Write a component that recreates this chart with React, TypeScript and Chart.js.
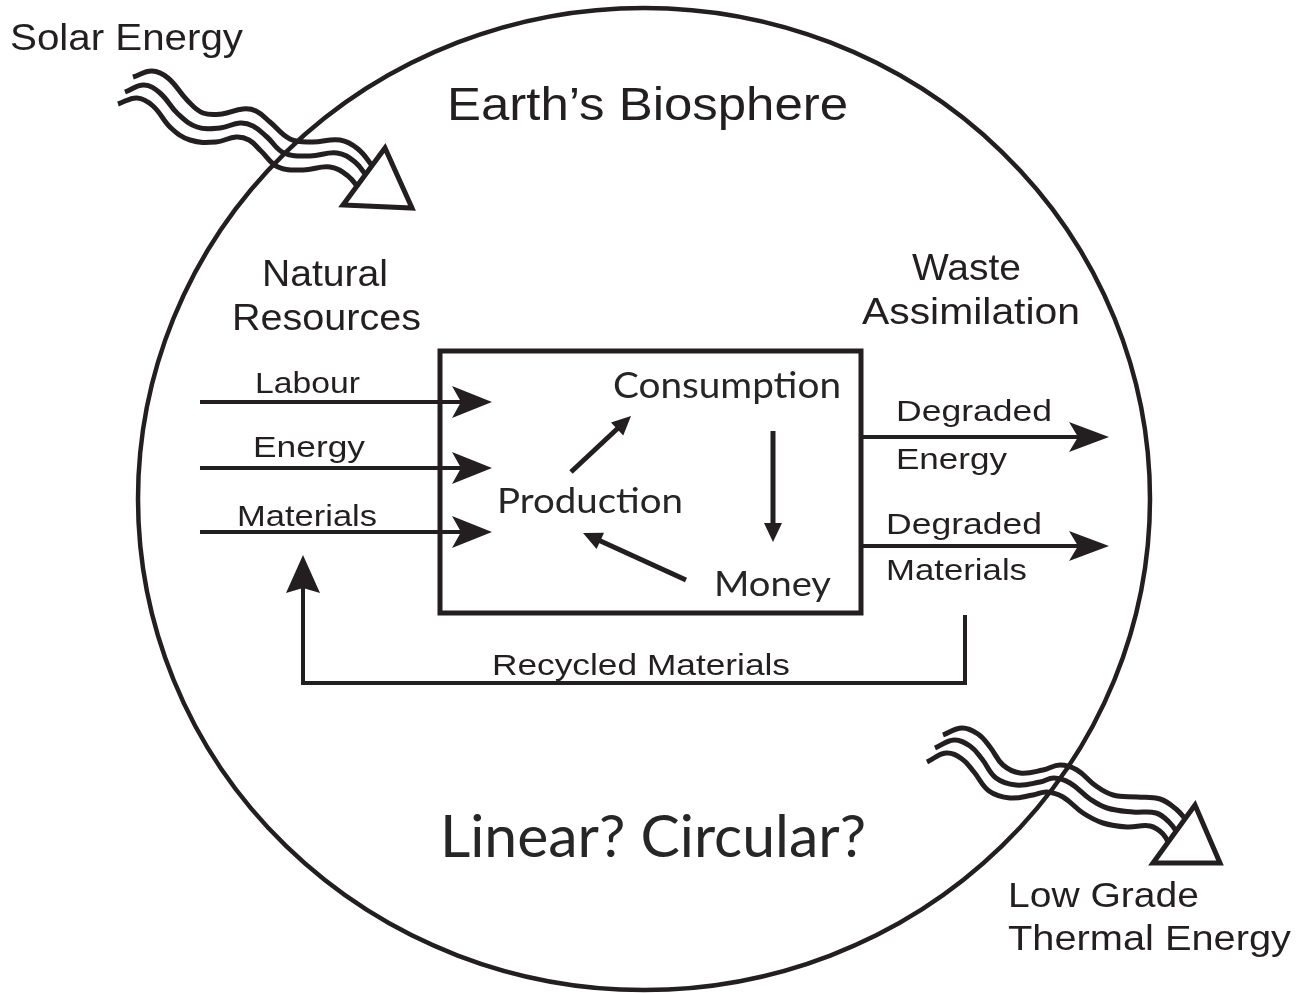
import React, { useEffect, useRef } from 'react';
import { Chart, registerables } from 'chart.js';

Chart.register(...registerables);

const W = 1299;
const H = 993;
const INK = '#231f20';
const ARIAL = '"Liberation Sans", Arial, sans-serif';
const CALIBRI = 'Lato, "Open Sans", sans-serif';

// ---------- diagram data (diagram coordinate space = 1299 x 993) ----------
// Earth's biosphere ellipse: centre x, centre y, radius x, radius y
const biosphere = [644, 499, 506, 491];

// Economy box corners (left, top, right, bottom)
const economyBox = [440, 351, 861, 613];

// Inputs from natural resources
const inputLabels = ['Labour', 'Energy', 'Materials'];
const inputY = [402, 468, 532];
const inputX = [200, 492]; // start, arrow tip

// Outputs to waste assimilation
const outputLabels = ['Degraded Energy', 'Degraded Materials'];
const outputY = [437, 546];
const outputX = [861, 1109]; // start, arrow tip

// Recycled materials loop (x, y pairs; last one is the arrow tip)
const recycledPath = [
  [965, 615],
  [965, 683],
  [303, 683],
  [303, 555],
];

// Production -> Consumption -> Money -> Production (from x, from y, tip x, tip y)
const cycleArrows = [
  [571, 472, 631, 416],
  [773, 431, 773, 542],
  [686, 580, 583, 533],
];

// Solar energy wave (three strands)
const solarWaveTop = [[133, 77], [152, 71], [168, 78], [187, 100], [203, 113], [222, 114], [243, 109], [256, 111], [270, 122], [290, 139], [312, 142], [340, 140], [358, 149], [374, 168]];
const solarWaveMid = [[125, 92], [144, 85], [160, 93], [178, 114], [197, 127], [220, 128], [240, 123], [253, 126], [267, 137], [284, 153], [310, 156], [337, 153], [355, 162], [368, 178]];
const solarWaveBot = [[118, 104], [137, 98], [153, 106], [171, 128], [190, 140], [216, 142], [236, 137], [249, 140], [261, 151], [278, 167], [303, 170], [330, 167], [348, 176], [360, 190]];
const solarTriangle = [[343, 205], [385, 148], [412, 208]];

// Low grade thermal energy wave (three strands)
const thermalWaveTop = [[943, 735], [962, 728], [978, 734], [990, 747], [1003, 765], [1020, 773], [1043, 770], [1060, 765], [1077, 770], [1096, 786], [1113, 795], [1137, 797], [1160, 799], [1176, 809], [1188, 822]];
const thermalWaveMid = [[935, 748], [954, 740], [970, 746], [982, 759], [996, 778], [1016, 785], [1040, 782], [1054, 778], [1070, 783], [1090, 799], [1107, 808], [1133, 812], [1156, 813], [1169, 822], [1179, 835]];
const thermalWaveBot = [[927, 762], [946, 753], [962, 759], [974, 772], [989, 791], [1010, 798], [1033, 795], [1047, 792], [1063, 797], [1083, 813], [1103, 823], [1127, 827], [1150, 826], [1163, 834], [1171, 848]];
const thermalTriangle = [[1153, 863], [1195, 805], [1220, 863]];

// ---------- text layout ----------
// [text, family, size, left, right, baseline]
const textLayout: [string, string, number, number, number, number][] = [
  ['Solar Energy', ARIAL, 36, 10, 243, 50],
  ['Earth\u2019s Biosphere', ARIAL, 46, 447, 848, 120],
  ['Natural', ARIAL, 37, 262, 388, 286],
  ['Resources', ARIAL, 37, 232, 421, 330],
  ['Waste', ARIAL, 37, 912, 1021, 280],
  ['Assimilation', ARIAL, 37, 862, 1080, 324],
  [inputLabels[0], ARIAL, 29, 255, 360, 393],
  [inputLabels[1], ARIAL, 29, 253, 365, 457],
  [inputLabels[2], ARIAL, 29, 237, 377, 526],
  [outputLabels[0].split(' ')[0], ARIAL, 29, 896, 1052, 421],
  [outputLabels[0].split(' ')[1], ARIAL, 29, 896, 1007, 469],
  [outputLabels[1].split(' ')[0], ARIAL, 29, 886, 1042, 534],
  [outputLabels[1].split(' ')[1], ARIAL, 29, 886, 1027, 580],
  ['Recycled Materials', ARIAL, 29, 492, 790, 675],
  ['Low Grade', ARIAL, 35, 1008, 1199, 907],
  ['Thermal Energy', ARIAL, 35, 1008, 1291, 950],
  ['Consumption', CALIBRI, 36, 613, 841, 398],
  ['Production', CALIBRI, 35, 497, 683, 513],
  ['Money', CALIBRI, 35, 714, 831, 596],
  ['Linear? Circular?', CALIBRI, 58, 440, 866, 857],
];

type Head = { len: number; half: number; notch: number };
const BIG_HEAD: Head = { len: 40, half: 16, notch: 9 };
const OUT_HEAD: Head = { len: 40, half: 15, notch: 9 };
const UP_HEAD: Head = { len: 38, half: 17, notch: 5 };
const SMALL_HEAD: Head = { len: 19, half: 9, notch: 0 };

type Arrow = { pts: number[][]; width: number; head: Head };

function buildArrows(): Arrow[] {
  const arrows: Arrow[] = [];
  inputY.forEach((y) => arrows.push({ pts: [[inputX[0], y], [inputX[1], y]], width: 4, head: BIG_HEAD }));
  outputY.forEach((y) => arrows.push({ pts: [[outputX[0], y], [outputX[1], y]], width: 4, head: OUT_HEAD }));
  arrows.push({ pts: recycledPath, width: 4, head: UP_HEAD });
  cycleArrows.forEach((a) => arrows.push({ pts: [[a[0], a[1]], [a[2], a[3]]], width: 5, head: SMALL_HEAD }));
  return arrows;
}

function toXY(pts: number[][]) {
  return pts.map((p) => ({ x: p[0], y: p[1] }));
}

function shortenEnd(pts: number[][], by: number) {
  const n = pts.length;
  const [x1, y1] = pts[n - 2];
  const [x2, y2] = pts[n - 1];
  const d = Math.hypot(x2 - x1, y2 - y1);
  const ux = (x2 - x1) / d;
  const uy = (y2 - y1) / d;
  return [...pts.slice(0, n - 1), [x2 - ux * by, y2 - uy * by]];
}

const diagramPlugin = {
  id: 'diagram',
  beforeDatasetsDraw(chart: any) {
    const { ctx } = chart;
    const sx = chart.scales.x;
    const sy = chart.scales.y;
    const [cx, cy, rx, ry] = biosphere;
    const px = sx.getPixelForValue(cx);
    const py = sy.getPixelForValue(cy);
    const prx = Math.abs(sx.getPixelForValue(cx + rx) - px);
    const pry = Math.abs(sy.getPixelForValue(cy + ry) - py);
    ctx.save();
    ctx.strokeStyle = INK;
    ctx.lineWidth = 4.5;
    ctx.beginPath();
    ctx.ellipse(px, py, prx, pry, 0, 0, Math.PI * 2);
    ctx.stroke();
    ctx.restore();
  },
  afterDatasetsDraw(chart: any) {
    const { ctx } = chart;
    const sx = chart.scales.x;
    const sy = chart.scales.y;
    const P = (p: number[]) => [sx.getPixelForValue(p[0]), sy.getPixelForValue(p[1])];
    ctx.save();
    ctx.fillStyle = INK;
    ctx.strokeStyle = INK;

    // arrow heads
    buildArrows().forEach((a) => {
      const n = a.pts.length;
      const [fx, fy] = P(a.pts[n - 2]);
      const [tx, ty] = P(a.pts[n - 1]);
      const d = Math.hypot(tx - fx, ty - fy);
      const ux = (tx - fx) / d;
      const uy = (ty - fy) / d;
      const nx = -uy;
      const ny = ux;
      const h = a.head;
      const bx = tx - ux * h.len;
      const by = ty - uy * h.len;
      ctx.beginPath();
      ctx.moveTo(tx, ty);
      ctx.lineTo(bx + nx * h.half, by + ny * h.half);
      ctx.lineTo(tx - ux * (h.len - h.notch), ty - uy * (h.len - h.notch));
      ctx.lineTo(bx - nx * h.half, by - ny * h.half);
      ctx.closePath();
      ctx.fill();
    });

    // hollow triangles of the energy waves
    [solarTriangle, thermalTriangle].forEach((tri) => {
      ctx.beginPath();
      tri.forEach((p, i) => {
        const [x, y] = P(p);
        if (i === 0) ctx.moveTo(x, y);
        else ctx.lineTo(x, y);
      });
      ctx.closePath();
      ctx.fillStyle = '#ffffff';
      ctx.fill();
      ctx.lineWidth = 5;
      ctx.lineJoin = 'miter';
      ctx.stroke();
    });

    // texts
    textLayout.forEach(([text, family, size, left, right, base]) => {
      ctx.font = `${size}px ${family}`;
      ctx.fillStyle = family === ARIAL ? INK : '#262626';
      ctx.textAlign = 'left';
      ctx.textBaseline = 'alphabetic';
      const [lx, by] = P([left, base]);
      const [rx] = P([right, base]);
      const w = ctx.measureText(text).width;
      const scale = (rx - lx) / w;
      ctx.save();
      ctx.translate(lx, by);
      ctx.scale(scale, 1);
      ctx.fillText(text, 0, 0);
      ctx.restore();
    });
    ctx.restore();
  },
};

export default function App() {
  const ref = useRef<HTMLCanvasElement | null>(null);

  useEffect(() => {
    if (!ref.current) return;
    const lineDs = (pts: number[][], width: number, tension = 0, join: CanvasLineJoin = 'miter') => ({
      data: toXY(pts),
      showLine: true,
      borderColor: INK,
      backgroundColor: INK,
      borderWidth: width,
      pointRadius: 0,
      pointHoverRadius: 0,
      tension,
      fill: false,
      borderCapStyle: 'butt' as CanvasLineCap,
      borderJoinStyle: join,
      clip: false as any,
    });

    const datasets: any[] = [];
    // waves
    [solarWaveTop, solarWaveMid, solarWaveBot, thermalWaveTop, thermalWaveMid, thermalWaveBot].forEach((w) =>
      datasets.push(lineDs(w, 5, 0.4, 'round'))
    );
    // economy box
    const [l, t, r, b] = economyBox;
    datasets.push(lineDs([[l, t], [r, t], [r, b], [l, b], [l, t], [r, t]], 5));
    // arrows (line bodies)
    buildArrows().forEach((a) => {
      const cut = a.head.len - a.head.notch - 1;
      datasets.push(lineDs(shortenEnd(a.pts, cut), a.width));
    });

    const chart = new Chart(ref.current, {
      type: 'scatter',
      data: { datasets },
      options: {
        animation: false,
        responsive: false,
        events: [],
        layout: { padding: 0 },
        scales: {
          x: { type: 'linear', min: 0, max: W, display: false },
          y: { type: 'linear', min: 0, max: H, reverse: true, display: false },
        },
        plugins: {
          legend: { display: false },
          tooltip: { enabled: false },
        },
      },
      plugins: [diagramPlugin],
    });
    return () => chart.destroy();
  }, []);

  return (
    <canvas
      ref={ref}
      width={W}
      height={H}
      style={{ position: 'absolute', left: 0, top: 0, width: W, height: H, background: '#ffffff' }}
    />
  );
}
